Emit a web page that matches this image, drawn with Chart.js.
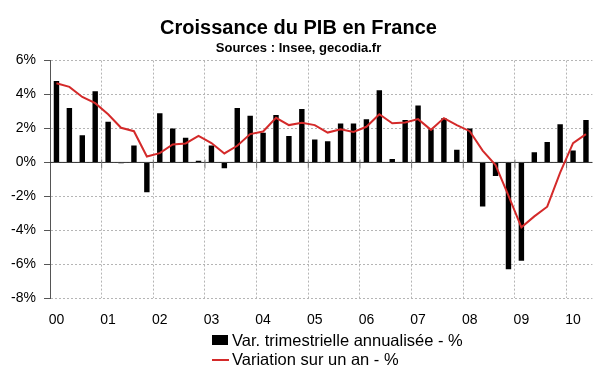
<!DOCTYPE html>
<html>
<head>
<meta charset="utf-8">
<script src="https://cdn.jsdelivr.net/npm/chart.js@4.4.1/dist/chart.umd.min.js"></script>
<style>
  html, body { margin: 0; padding: 0; background: #fff; }
  #wrap { width: 600px; height: 372px; }
</style>
</head>
<body>
<div id="wrap"><canvas id="pib" width="600" height="372"></canvas></div>
<script>
  // Années (étiquettes de l'axe X) et trimestres
  const annees = ['00', '01', '02', '03', '04', '05', '06', '07', '08', '09', '10'];
  const trimestres = [];
  annees.forEach(a => ['T1', 'T2', 'T3', 'T4'].forEach(t => trimestres.push(a + ' ' + t)));
  trimestres.splice(42); // de 2000 T1 à 2010 T2

  // Variation trimestrielle annualisée - %
  const varTrim = [
    4.8, 3.2, 1.6, 4.2,
    2.4, -0.05, 1.0, -1.75,
    2.9, 2.0, 1.45, 0.1,
    1.0, -0.35, 3.2, 2.75,
    1.75, 2.8, 1.55, 3.15,
    1.35, 1.25, 2.3, 2.3,
    2.55, 4.25, 0.2, 2.5,
    3.35, 1.95, 2.6, 0.75,
    2.0, -2.6, -0.8, -6.3,
    -5.8, 0.6, 1.2, 2.25,
    0.7, 2.5
  ];

  // Variation sur un an - %
  const varAn = [
    4.67, 4.45, 3.86, 3.49,
    2.84, 2.04, 1.84, 0.35,
    0.55, 1.06, 1.12, 1.57,
    1.14, 0.53, 0.98, 1.67,
    1.82, 2.63, 2.2, 2.33,
    2.2, 1.76, 1.96, 1.8,
    2.1, 2.84, 2.31, 2.35,
    2.55, 1.92, 2.61, 2.2,
    1.84, 0.7, -0.16, -1.95,
    -3.82, -3.18, -2.61, -0.6,
    1.14, 1.67
  ];

  const police = 'Liberation Sans, Arial, sans-serif';

  // Ligne du zéro et petites graduations entre les années
  const axeZero = {
    id: 'axeZero',
    beforeDatasetsDraw(chart) {
      const { ctx, chartArea, scales } = chart;
      const y0 = scales.y.getPixelForValue(0);
      ctx.save();
      ctx.strokeStyle = '#333';
      ctx.lineWidth = 1;
      ctx.beginPath();
      ctx.moveTo(chartArea.left, y0);
      ctx.lineTo(chartArea.right, y0);
      ctx.stroke();
      ctx.strokeStyle = '#777';
      for (let i = 4; i < trimestres.length; i += 4) {
        const x = (scales.x.getPixelForValue(i - 1) + scales.x.getPixelForValue(i)) / 2;
        ctx.beginPath();
        ctx.moveTo(x, y0 - 3);
        ctx.lineTo(x, y0 + 6);
        ctx.stroke();
      }
      ctx.restore();
    }
  };

  // Légende sur deux lignes, comme l'original
  const legende = {
    id: 'legende',
    afterDraw(chart) {
      const { ctx } = chart;
      const ds = chart.data.datasets;
      ctx.save();
      ctx.font = '16.5px ' + police;
      ctx.textBaseline = 'middle';
      ctx.fillStyle = '#000';
      ctx.fillRect(212, 335, 16, 10);
      ctx.fillText(ds[0].label, 232, 341);
      ctx.strokeStyle = ds[1].borderColor;
      ctx.lineWidth = 2;
      ctx.beginPath();
      ctx.moveTo(212, 360);
      ctx.lineTo(229, 360);
      ctx.stroke();
      ctx.fillStyle = '#000';
      ctx.fillText(ds[1].label, 232, 360);
      ctx.restore();
    }
  };

  new Chart(document.getElementById('pib').getContext('2d'), {
    data: {
      labels: trimestres,
      datasets: [
        {
          type: 'bar',
          label: 'Var. trimestrielle annualisée - %',
          data: varTrim,
          backgroundColor: '#000',
          categoryPercentage: 1,
          barPercentage: 0.42,
          order: 2
        },
        {
          type: 'line',
          label: 'Variation sur un an - %',
          data: varAn,
          borderColor: '#d42a2a',
          borderWidth: 2,
          pointRadius: 0,
          tension: 0,
          fill: false,
          order: 1
        }
      ]
    },
    options: {
      responsive: false,
      animation: false,
      layout: { padding: { top: 0, right: 3, bottom: 29, left: 0 } },
      plugins: {
        legend: { display: false },
        tooltip: { enabled: false },
        title: {
          display: true,
          text: 'Croissance du PIB en France',
          color: '#000',
          font: { family: police, size: 20, weight: 'bold' },
          padding: { top: 16, bottom: 0 }
        },
        subtitle: {
          display: true,
          text: 'Sources : Insee, gecodia.fr',
          color: '#000',
          font: { family: police, size: 13, weight: 'bold' },
          padding: { top: 1, bottom: 4 }
        }
      },
      scales: {
        x: {
          type: 'category',
          offset: true,
          grid: {
            offset: true,
            drawTicks: false,
            color: ctx => (ctx.index > 0 && ctx.index < trimestres.length && ctx.index % 4 === 0) ? '#b5b5b5' : 'transparent'
          },
          border: { display: false, dash: [2, 2] },
          ticks: {
            autoSkip: false,
            maxRotation: 0,
            padding: 14,
            color: '#000',
            font: { family: police, size: 14 },
            callback: (v, i) => i % 4 === 0 ? annees[i / 4] : ''
          }
        },
        y: {
          min: -8,
          max: 6,
          afterFit: s => { s.width = 50; },
          grid: {
            color: '#b5b5b5',
            drawTicks: true,
            tickLength: 6,
            tickColor: '#555'
          },
          border: { display: true, color: '#555', width: 1, dash: [2, 2] },
          ticks: {
            stepSize: 2,
            padding: 8,
            color: '#000',
            font: { family: police, size: 14 },
            callback: v => v + '%'
          }
        }
      }
    },
    plugins: [axeZero, legende]
  });
</script>
</body>
</html>
